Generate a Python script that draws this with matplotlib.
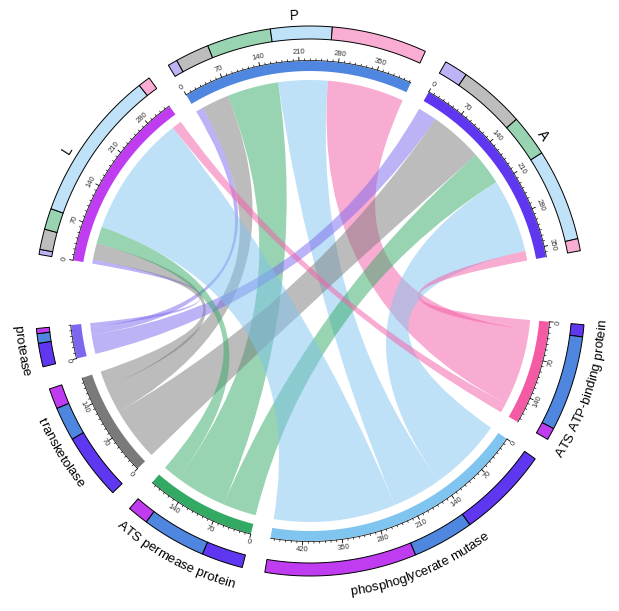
import numpy as np
import matplotlib.pyplot as plt
from matplotlib.path import Path
from matplotlib.patches import PathPatch, Polygon
from matplotlib.colors import to_rgb
from matplotlib.font_manager import FontProperties, findfont, get_font

plt.rcParams['font.family'] = ['Liberation Sans', 'DejaVu Sans']

species = ['P', 'A', 'L']
proteins = ['protease', 'transketolase', 'ATS permease protein',
            'phosphoglycerate mutase', 'ATS ATP-binding protein']
# rows = species, columns = proteins
flows = np.array([
    [15, 53, 100, 96, 149],
    [37, 104, 65, 144, 19],
    [8, 32, 33, 237, 19],
])
species_colors = ['#4F86E0', '#5F37F0', '#C03CF0']
protein_colors = ['#7B68EE', '#7A7A7A', '#32AA64', '#80C4F0', '#F55AA5']

# clockwise sector order and the gap (degrees) after each sector
order = [('s', 0), ('s', 1), ('p', 4), ('p', 3), ('p', 2), ('p', 1), ('p', 0), ('s', 2)]
gaps = [4.8, 15.5, 4.8, 4.8, 4.8, 4.8, 15.5, 4.8]
start_angle = -31.0

CX, CY = 310, 301
R_LINK = 221
R_IN0, R_IN1 = 230, 240
R_OUT0, R_OUT1 = 262, 275
DPI = 100


def xy(theta, r):
    t = np.radians(theta)
    return CX + r * np.sin(t), CY - r * np.cos(t)


def ring(t0, t1, r0, r1, n=40):
    ts = np.linspace(t0, t1, n)
    return np.array([xy(t, r1) for t in ts] + [xy(t, r0) for t in ts[::-1]])


def facing(theta):
    if 90 < theta % 360 < 270:
        return 180 - theta
    return -theta


def light(c):
    return tuple(0.5 * np.array(to_rgb(c)) + 0.5)


def bent_label(ax, text, theta, r, size):
    prop = FontProperties(family='Liberation Sans', size=size)
    font = get_font(findfont(prop))
    font.set_size(size, DPI)
    adv = np.array([font.load_char(ord(c)).linearHoriAdvance / 65536 for c in text])
    centers = np.cumsum(adv) - adv / 2
    span = np.degrees(adv.sum() / r)
    flip = 90 < theta % 360 < 270
    px = size * DPI / 72
    rb = r + 0.36 * px if flip else r - 0.36 * px
    for c, p in zip(text, centers):
        d = np.degrees(p / rb) - span / 2
        t = theta - d if flip else theta + d
        x, y = xy(t, rb)
        ax.text(x, y, c, rotation=facing(t), rotation_mode='anchor',
                ha='center', va='baseline', fontsize=size, color='black')


def chord(ax, a0, a1, b0, b1, color):
    verts, codes = [], []
    for k, t in enumerate(np.linspace(a0, a1, 30)):
        verts.append(xy(t, R_LINK))
        codes.append(Path.MOVETO if k == 0 else Path.LINETO)
    verts += [(CX, CY), xy(b0, R_LINK)]
    codes += [Path.CURVE3, Path.CURVE3]
    for t in np.linspace(b0, b1, 30)[1:]:
        verts.append(xy(t, R_LINK))
        codes.append(Path.LINETO)
    verts += [(CX, CY), xy(a0, R_LINK), xy(a0, R_LINK)]
    codes += [Path.CURVE3, Path.CURVE3, Path.CLOSEPOLY]
    ax.add_patch(PathPatch(Path(verts, codes), facecolor=color, edgecolor='none',
                           alpha=0.5, lw=0))


# sector sizes and angular scale
sizes = [flows[i].sum() if kind == 's' else flows[:, i].sum() for kind, i in order]
scale = (360 - sum(gaps)) / sum(sizes)

fig = plt.figure(figsize=(6.19, 6.11), dpi=DPI)
ax = fig.add_axes([0, 0, 1, 1])
ax.set_xlim(0, 619)
ax.set_ylim(611, 0)
ax.axis('off')

# angular position of every link end: seg[(species, protein, side)]
seg = {}
ang = start_angle
starts = []
for (kind, i), size, gap in zip(order, sizes, gaps):
    starts.append(ang)
    pos = ang
    if kind == 's':
        for j in range(len(proteins)):
            w = flows[i, j] * scale
            seg[(i, j, 's')] = (pos, pos + w)
            pos += w
    else:
        for k in [1, 0, 2]:
            w = flows[k, i] * scale
            seg[(k, i, 'p')] = (pos, pos + w)
            pos += w
    ang += size * scale + gap

# links
for i in range(len(species)):
    for j in range(len(proteins)):
        a0, a1 = seg[(i, j, 's')]
        b0, b1 = seg[(i, j, 'p')]
        chord(ax, a0, a1, b0, b1, protein_colors[j])

# tracks, ticks and labels
for (kind, i), size, t0 in zip(order, sizes, starts):
    t1 = t0 + size * scale
    color = species_colors[i] if kind == 's' else protein_colors[i]
    ax.add_patch(Polygon(ring(t0, t1, R_IN0, R_IN1), closed=True,
                         facecolor=color, edgecolor='none'))

    # outer composition track
    if kind == 's':
        parts = [(seg[(i, j, 's')], light(protein_colors[j])) for j in range(len(proteins))]
    else:
        parts = [(seg[(k, i, 'p')], species_colors[k]) for k in [1, 0, 2]]
    for (p0, p1), c in parts:
        ax.add_patch(Polygon(ring(p0, p1, R_OUT0, R_OUT1), closed=True,
                             facecolor=c, edgecolor='black', lw=0.7))

    # axis line and ticks
    ts = np.linspace(t0, t1, 60)
    line = np.array([xy(t, R_IN1 + 0.5) for t in ts])
    ax.plot(line[:, 0], line[:, 1], color='black', lw=0.5)
    for v in range(0, size + 1, 10):
        t = t0 + v * scale
        major = v % 70 == 0
        (x0, y0), (x1, y1) = xy(t, R_IN1 + 0.5), xy(t, R_IN1 + (4 if major else 2.3))
        ax.plot([x0, x1], [y0, y1], color='black', lw=0.6 if major else 0.45)
        if major:
            x, y = xy(t, 249)
            ax.text(x, y, str(v), rotation=facing(t), rotation_mode='anchor',
                    ha='center', va='center', fontsize=5.5, color='#333333')

    name = species[i] if kind == 's' else proteins[i]
    mid = (t0 + t1) / 2
    if kind == 's':
        bent_label(ax, name, mid, 287, 10)
    else:
        bent_label(ax, name, mid, 292, 9.5)

fig.savefig('out.png', dpi=DPI)
